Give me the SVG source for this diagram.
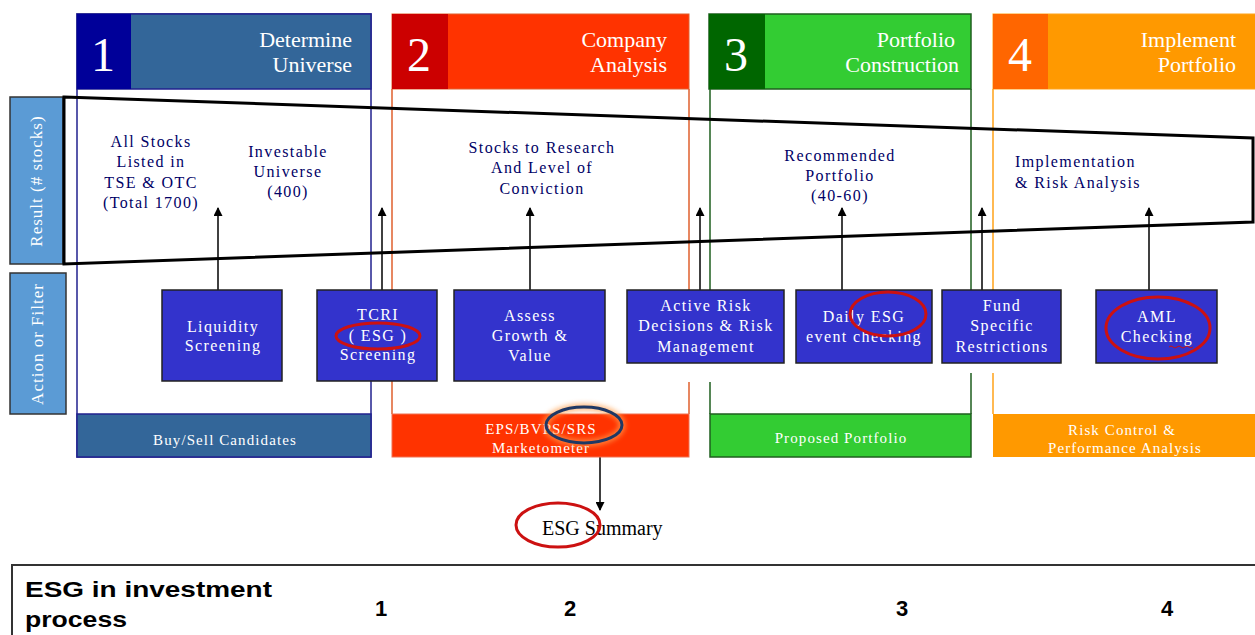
<svg xmlns="http://www.w3.org/2000/svg" width="1255" height="635" viewBox="0 0 1255 635">
<defs>
<style>
.hdr{font-family:"Liberation Serif",serif;font-size:22px;fill:#fff;text-anchor:end}
.num{font-family:"Liberation Serif",serif;font-size:48px;fill:#fff;text-anchor:middle}
.ft{font-family:"Liberation Serif",serif;font-size:16px;letter-spacing:1.4px;fill:#000066;text-anchor:middle}
.bt{font-family:"Liberation Serif",serif;font-size:16px;letter-spacing:1.4px;fill:#fff;text-anchor:middle}
.bb{font-family:"Liberation Serif",serif;font-size:15px;letter-spacing:1.1px;fill:#fff;text-anchor:middle}
.side{font-family:"Liberation Serif",serif;font-size:17px;letter-spacing:1px;fill:#fff;text-anchor:middle}
.act{fill:#3333CC;stroke:#222;stroke-width:1.5}
.arr{stroke:#000;stroke-width:1.5;fill:none;marker-end:url(#ah)}
.red{fill:none;stroke:#CC1111;stroke-width:3}
.tbl{font-family:"Liberation Sans",Arial,sans-serif;font-size:22px;font-weight:bold;fill:#000}
</style>
<marker id="ah" markerWidth="9" markerHeight="9" refX="8" refY="4.5" orient="auto" markerUnits="userSpaceOnUse"><path d="M0,0 L9,4.5 L0,9 z" fill="#000"/></marker>
<filter id="glow" x="-30%" y="-50%" width="160%" height="200%"><feGaussianBlur stdDeviation="2.5"/></filter>
</defs>
<rect width="1255" height="635" fill="#fff"/>

<g id="frames">
<rect x="77" y="14" width="294" height="443" fill="none" stroke="#22228F" stroke-width="1.5"/>
<path d="M392,89 V414 M689,89 V290 M689,382 V414" stroke="#E0602E" stroke-width="1.5" fill="none"/>
<path d="M710,89 V290 M710,382 V414 M971,89 V290 M971,373 V414" stroke="#1F5F1F" stroke-width="1.5" fill="none"/>
<path d="M993,89 V290 M993,373 V414" stroke="#FFA31A" stroke-width="1.5" fill="none"/>
</g>

<g id="col1-header">
<rect x="77" y="14" width="294" height="75" fill="#336699" stroke="#22228F" stroke-width="1.5"/>
<rect x="77" y="14" width="54" height="75" fill="#000099"/>
<text class="num" x="103" y="71">1</text>
<text class="hdr" x="352" y="47">Determine</text>
<text class="hdr" x="352" y="72">Universe</text>
</g>
<g id="col2-header">
<rect x="392" y="14" width="297" height="75" fill="#FF3300" stroke="#E0602E" stroke-width="1"/>
<rect x="392" y="14" width="56" height="75" fill="#CC0000"/>
<text class="num" x="419" y="71">2</text>
<text class="hdr" x="667" y="47">Company</text>
<text class="hdr" x="667" y="72">Analysis</text>
</g>
<g id="col3-header">
<rect x="709" y="14" width="262" height="75" fill="#33CC33" stroke="#1F5F1F" stroke-width="1.5"/>
<rect x="709" y="14" width="56" height="75" fill="#006600"/>
<text class="num" x="736" y="71">3</text>
<text class="hdr" x="955" y="47">Portfolio</text>
<text class="hdr" x="959" y="72">Construction</text>
</g>
<g id="col4-header">
<rect x="993" y="14" width="270" height="75" fill="#FF9900" stroke="#FFA31A" stroke-width="1"/>
<rect x="993" y="14" width="55" height="75" fill="#FF6600"/>
<text class="num" x="1020" y="71">4</text>
<text class="hdr" x="1236" y="47">Implement</text>
<text class="hdr" x="1236" y="72">Portfolio</text>
</g>

<g id="result-label">
<rect x="10" y="97" width="53" height="167" fill="#5B9BD5" stroke="#333" stroke-width="1.5"/>
<text class="side" transform="translate(42,181) rotate(-90)">Result (# stocks)</text>
</g>
<g id="action-label">
<rect x="10" y="273" width="56" height="141" fill="#5B9BD5" stroke="#333" stroke-width="1.5"/>
<text class="side" transform="translate(43,344) rotate(-90)">Action or Filter</text>
</g>

<g id="funnel">
<polygon points="64,97 1253,138 1253,222 64,264" fill="none" stroke="#000" stroke-width="3" stroke-linejoin="miter"/>
</g>

<g id="result-texts">
<text class="ft" x="151" y="147">All Stocks</text>
<text class="ft" x="151" y="167">Listed in</text>
<text class="ft" x="151" y="188">TSE &amp; OTC</text>
<text class="ft" x="151" y="208">(Total 1700)</text>
<text class="ft" x="288" y="157">Investable</text>
<text class="ft" x="288" y="177">Universe</text>
<text class="ft" x="288" y="197">(400)</text>
<text class="ft" x="542" y="153">Stocks to Research</text>
<text class="ft" x="542" y="173">And Level of</text>
<text class="ft" x="542" y="194">Conviction</text>
<text class="ft" x="840" y="161">Recommended</text>
<text class="ft" x="840" y="181">Portfolio</text>
<text class="ft" x="840" y="201">(40-60)</text>
<text class="ft" x="1015" y="167" style="text-anchor:start">Implementation</text>
<text class="ft" x="1015" y="188" style="text-anchor:start">&amp; Risk Analysis</text>
</g>

<g id="connectors">
<line class="arr" x1="218" y1="290" x2="218" y2="208"/>
<line class="arr" x1="382" y1="290" x2="382" y2="208"/>
<line class="arr" x1="530" y1="290" x2="530" y2="208"/>
<line class="arr" x1="700" y1="290" x2="700" y2="208"/>
<line class="arr" x1="842" y1="290" x2="842" y2="208"/>
<line class="arr" x1="982" y1="290" x2="982" y2="208"/>
<line class="arr" x1="1149" y1="290" x2="1149" y2="208"/>
<line class="arr" x1="600" y1="443" x2="600" y2="510"/>
</g>

<g id="liquidity">
<rect class="act" x="162" y="290" width="120" height="91"/>
<text class="bt" x="223" y="332">Liquidity</text>
<text class="bt" x="223" y="351">Screening</text>
</g>
<g id="tcri">
<rect class="act" x="317" y="290" width="120" height="91"/>
<text class="bt" x="378" y="320">TCRI</text>
<text class="bt" x="378" y="341">( ESG )</text>
<text class="bt" x="378" y="360">Screening</text>
</g>
<g id="assess">
<rect class="act" x="454" y="290" width="151" height="91"/>
<text class="bt" x="530" y="321">Assess</text>
<text class="bt" x="530" y="341">Growth &amp;</text>
<text class="bt" x="530" y="361">Value</text>
</g>
<g id="active-risk">
<rect class="act" x="627" y="290" width="157" height="73"/>
<text class="bt" x="706" y="311">Active Risk</text>
<text class="bt" x="706" y="331">Decisions &amp; Risk</text>
<text class="bt" x="706" y="352">Management</text>
</g>
<g id="daily-esg">
<rect class="act" x="796" y="290" width="136" height="73"/>
<text class="bt" x="864" y="322">Daily ESG</text>
<text class="bt" x="864" y="342">event checking</text>
</g>
<g id="fund-specific">
<rect class="act" x="942" y="290" width="119" height="73"/>
<text class="bt" x="1002" y="311">Fund</text>
<text class="bt" x="1002" y="331">Specific</text>
<text class="bt" x="1002" y="352">Restrictions</text>
</g>
<g id="aml">
<rect class="act" x="1096" y="290" width="121" height="73"/>
<text class="bt" x="1157" y="322">AML</text>
<text class="bt" x="1157" y="342">Checking</text>
<path d="M1169,347 q2,-2 4,0 t4,0 t4,0 t4,0 t4,0 t4,0" fill="none" stroke="#CC1111" stroke-width="1"/>
</g>

<g id="buy-sell">
<rect x="77" y="414" width="294" height="43" fill="#336699" stroke="#22228F" stroke-width="1.5"/>
<text class="bb" x="225" y="445">Buy/Sell Candidates</text>
</g>
<g id="eps">
<rect x="392" y="414" width="297" height="43" fill="#FF3300" stroke="#F07050" stroke-width="1"/>
<text class="bb" x="541" y="434">EPS/BVPS/SRS</text>
<text class="bb" x="541" y="453">Marketometer</text>
</g>
<g id="proposed">
<rect x="710" y="414" width="261" height="43" fill="#33CC33" stroke="#1F5F1F" stroke-width="1.5"/>
<text class="bb" x="841" y="443">Proposed Portfolio</text>
</g>
<g id="risk-control">
<rect x="993" y="414" width="270" height="43" fill="#FF9900"/>
<text class="bb" x="1122" y="435">Risk Control &amp;</text>
<text class="bb" x="1125" y="453">Performance Analysis</text>
</g>

<g id="esg-summary">
<text x="542" y="535" style="font-family:'Liberation Serif',serif;font-size:20px;fill:#000">ESG Summary</text>
</g>

<g id="highlights">
<ellipse cx="584" cy="425" rx="38" ry="18" fill="none" stroke="#FFA050" stroke-width="7" opacity="0.7" filter="url(#glow)"/>
<ellipse cx="584" cy="425" rx="38" ry="18" fill="none" stroke="#1F3864" stroke-width="3"/>
<ellipse class="red" cx="378" cy="336" rx="42" ry="13"/>
<ellipse class="red" cx="888" cy="314" rx="38" ry="22"/>
<ellipse class="red" cx="1158" cy="328" rx="52" ry="31"/>
<ellipse class="red" cx="558" cy="525" rx="42" ry="22"/>
</g>

<g id="table">
<rect x="12" y="565" width="1260" height="90" fill="none" stroke="#333" stroke-width="2"/>
<text class="tbl" x="25" y="597" textLength="247" lengthAdjust="spacingAndGlyphs">ESG in investment</text>
<text class="tbl" x="25" y="627" textLength="102" lengthAdjust="spacingAndGlyphs">process</text>
<text class="tbl" x="381" y="616" text-anchor="middle">1</text>
<text class="tbl" x="570" y="616" text-anchor="middle">2</text>
<text class="tbl" x="902" y="616" text-anchor="middle">3</text>
<text class="tbl" x="1167" y="616" text-anchor="middle">4</text>
</g>
</svg>
